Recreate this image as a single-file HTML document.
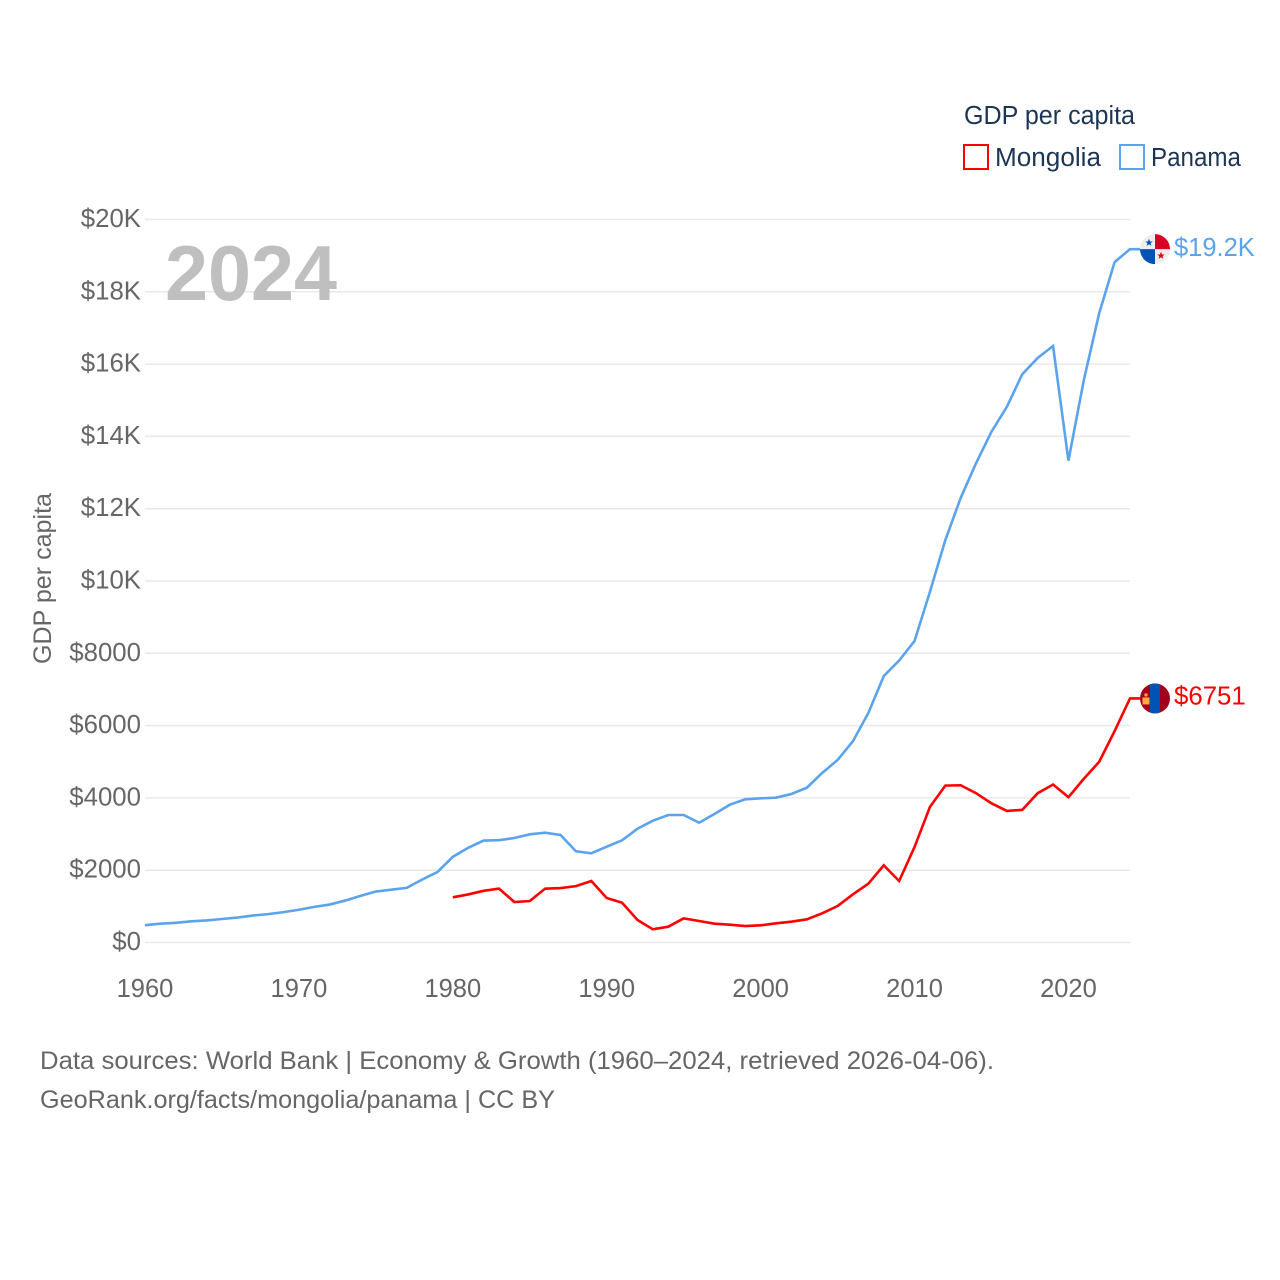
<!DOCTYPE html>
<html lang="en">
<head>
<meta charset="utf-8">
<title>GDP per capita: Mongolia and Panama</title>
<style>
html,body{margin:0;padding:0;background:#fff;}
svg{display:block;font-family:"Liberation Sans",sans-serif;}
</style>
</head>
<body>
<svg id="chart" xmlns="http://www.w3.org/2000/svg" width="1280" height="1280" viewBox="0 0 1280 1280">
  <rect x="0" y="0" width="1280" height="1280" fill="#ffffff"/>
  <g id="grid"></g>
  <g id="yLabels"></g>
  <g id="xLabels"></g>
  <text x="165" y="300" font-size="78" font-weight="700" fill="#bfbfbf" textLength="172" lengthAdjust="spacingAndGlyphs">2024</text>
  <text transform="translate(51,664) rotate(-90)" font-size="25" fill="#666666" textLength="171" lengthAdjust="spacingAndGlyphs">GDP per capita</text>
  <g id="series"></g>

  <g id="panamaEnd">
    <g>
      <clipPath id="clipP"><circle cx="0" cy="0" r="15"/></clipPath>
      <g clip-path="url(#clipP)">
        <rect x="-15" y="-15" width="30" height="30" fill="#eeeeee"/>
        <rect x="0" y="-15" width="15" height="15" fill="#d80027"/>
        <rect x="-15" y="0" width="15" height="15" fill="#0052b4"/>
        <polygon transform="translate(-6,-6.5)" points="0,-4 1,-1.2 3.8,-1.2 1.6,0.5 2.4,3.2 0,1.6 -2.4,3.2 -1.6,0.5 -3.8,-1.2 -1,-1.2" fill="#0052b4"/>
        <polygon transform="translate(6,6.5)" points="0,-4 1,-1.2 3.8,-1.2 1.6,0.5 2.4,3.2 0,1.6 -2.4,3.2 -1.6,0.5 -3.8,-1.2 -1,-1.2" fill="#d80027"/>
      </g>
    </g>
    <text id="panamaValue" x="19" y="7" font-size="25.5" fill="#5ba3ec"></text>
  </g>

  <g id="mongoliaEnd">
    <g>
      <clipPath id="clipM"><circle cx="0" cy="0" r="15"/></clipPath>
      <g clip-path="url(#clipM)">
        <rect x="-15" y="-15" width="30" height="30" fill="#a2001d"/>
        <rect x="-5" y="-15" width="10" height="30" fill="#0052b4"/>
        <rect x="-10.5" y="-5" width="3" height="3" fill="#ffb03a"/>
        <rect x="-12.5" y="-1" width="7" height="7" fill="#ffb03a"/>
      </g>
    </g>
    <text id="mongoliaValue" x="19" y="6" font-size="25.8" fill="#ff0000"></text>
  </g>

  <g>
    <text x="964" y="124" font-size="25.5" fill="#1c3555" textLength="171" lengthAdjust="spacingAndGlyphs">GDP per capita</text>
    <g>
      <rect x="964" y="145" width="24" height="24" fill="none" stroke="#ff0000" stroke-width="2"/>
      <text x="995" y="166" font-size="25.5" fill="#1c3555" textLength="106" lengthAdjust="spacingAndGlyphs">Mongolia</text>
    </g>
    <g>
      <rect x="1120" y="145" width="24" height="24" fill="none" stroke="#5ba3ec" stroke-width="2"/>
      <text x="1151" y="166" font-size="25.5" fill="#1c3555" textLength="90" lengthAdjust="spacingAndGlyphs">Panama</text>
    </g>
  </g>

  <text x="40" y="1069" font-size="25" fill="#666666" textLength="954" lengthAdjust="spacingAndGlyphs">Data sources: World Bank | Economy &amp; Growth (1960–2024, retrieved 2026-04-06).</text>
  <text x="40" y="1108" font-size="25" fill="#666666" textLength="515" lengthAdjust="spacingAndGlyphs">GeoRank.org/facts/mongolia/panama | CC BY</text>
</svg>
<script>
const panamaStartYear = 1960;
const panamaValues = [480,520,545,585,610,650,690,745,785,840,905,985,1050,1160,1290,1410,1460,1510,1740,1950,2370,2620,2820,2830,2890,2993,3037,2974,2522,2467,2650,2827,3148,3370,3527,3527,3314,3555,3812,3961,3989,4006,4108,4282,4690,5050,5570,6350,7370,7800,8340,9700,11130,12300,13260,14130,14820,15720,16170,16500,13330,15560,17410,18820,19180];
const mongoliaStartYear = 1980;
const mongoliaValues = [1250,1330,1430,1490,1120,1148,1490,1507,1560,1700,1231,1100,622,365,437,668,595,521,493,456,475,530,576,641,807,1010,1333,1627,2135,1701,2640,3750,4340,4350,4130,3850,3640,3670,4130,4370,4020,4530,5000,5850,6751];
const yTickValues = [0,2000,4000,6000,8000,10000,12000,14000,16000,18000,20000];
const yTickLabels = ["$0","$2000","$4000","$6000","$8000","$10K","$12K","$14K","$16K","$18K","$20K"];
const xTickValues = [1960,1970,1980,1990,2000,2010,2020];
const xTickLabels = ["1960","1970","1980","1990","2000","2010","2020"];

const NS = "http://www.w3.org/2000/svg";
const xScale = function (year) { return 145 + (year - 1960) * (985 / 64); };
const yScale = function (value) { return 942.5 - value * (723 / 20000); };
const formatValue = function (v) { return v >= 10000 ? "$" + (v / 1000).toFixed(1) + "K" : "$" + Math.round(v); };

const grid = document.getElementById("grid");
const yLabels = document.getElementById("yLabels");
const xLabels = document.getElementById("xLabels");
const series = document.getElementById("series");

yTickValues.forEach(function (v, i) {
  const line = document.createElementNS(NS, "line");
  
  
  line.setAttribute("x1", 145);
  line.setAttribute("x2", 1130);
  line.setAttribute("y1", yScale(v));
  line.setAttribute("y2", yScale(v));
  line.setAttribute("stroke", "#e9e9e9");
  line.setAttribute("stroke-width", "1.5");
  grid.appendChild(line);

  const t = document.createElementNS(NS, "text");
  
  
  t.setAttribute("x", 141);
  t.setAttribute("y", yScale(v) + 7.5);
  t.setAttribute("text-anchor", "end");
  t.setAttribute("font-size", "25.8");
  t.setAttribute("fill", "#666666");
  t.textContent = yTickLabels[i];
  yLabels.appendChild(t);
});

xTickValues.forEach(function (v, i) {
  const t = document.createElementNS(NS, "text");
  
  
  t.setAttribute("x", xScale(v));
  t.setAttribute("y", 997);
  t.setAttribute("text-anchor", "middle");
  t.setAttribute("font-size", "25.5");
  t.setAttribute("fill", "#666666");
  t.textContent = xTickLabels[i];
  xLabels.appendChild(t);
});

function buildPoints(values, startYear) {
  const pts = values.map(function (v, i) {
    return xScale(startYear + i).toFixed(2) + "," + yScale(v).toFixed(2);
  });
  const lastY = yScale(values[values.length - 1]).toFixed(2);
  pts.push("1140," + lastY);
  return pts.join(" ");
}

const panamaLine = document.createElementNS(NS, "polyline");


panamaLine.setAttribute("points", buildPoints(panamaValues, panamaStartYear));
panamaLine.setAttribute("fill", "none");
panamaLine.setAttribute("stroke", "#5ba3ec");
panamaLine.setAttribute("stroke-width", "2.6");
series.appendChild(panamaLine);

const mongoliaLine = document.createElementNS(NS, "polyline");


mongoliaLine.setAttribute("points", buildPoints(mongoliaValues, mongoliaStartYear));
mongoliaLine.setAttribute("fill", "none");
mongoliaLine.setAttribute("stroke", "#ff0000");
mongoliaLine.setAttribute("stroke-width", "2.6");
series.appendChild(mongoliaLine);

const panamaLast = panamaValues[panamaValues.length - 1];
const mongoliaLast = mongoliaValues[mongoliaValues.length - 1];
document.getElementById("panamaEnd").setAttribute("transform", "translate(1155," + yScale(panamaLast) + ")");
document.getElementById("mongoliaEnd").setAttribute("transform", "translate(1155," + yScale(mongoliaLast) + ")");
document.getElementById("panamaValue").textContent = formatValue(19200);
document.getElementById("mongoliaValue").textContent = formatValue(mongoliaLast);
</script>
</body>
</html>
